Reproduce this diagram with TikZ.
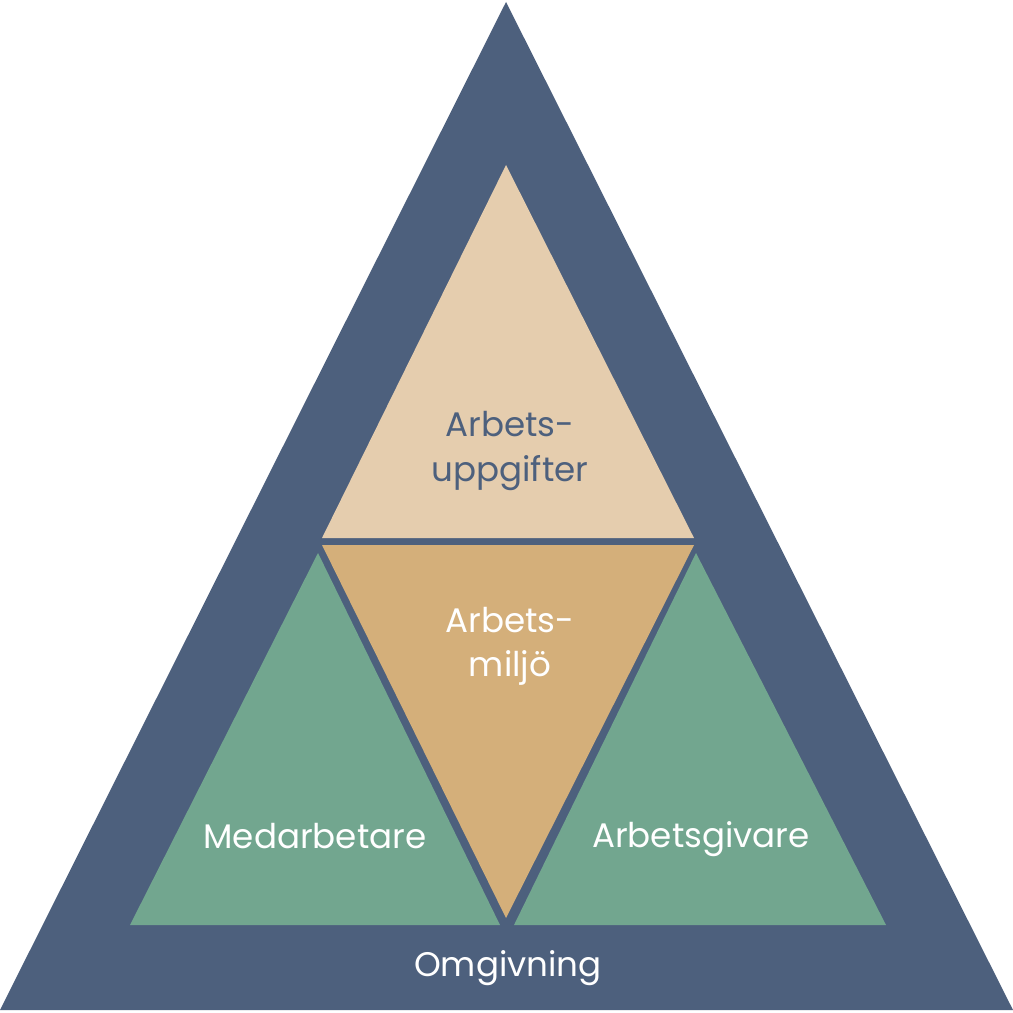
\documentclass[tikz,border=0pt]{standalone}
\usepackage{fontspec}
\setmainfont{Poppins}
\definecolor{omgblue}{HTML}{4D607D}
\definecolor{uppbeige}{HTML}{E5CDAE}
\definecolor{miljotan}{HTML}{D4AF7A}
\definecolor{partgreen}{HTML}{72A68F}
\tikzset{
  label/.style={font=\fontsize{9.7}{12.6}\selectfont, align=center, inner sep=0pt},
}
\begin{document}
\begin{tikzpicture}[x=0.01cm,y=-0.01cm]
            \useasboundingbox (0,0) rectangle (1013,1013);
            \fill[white] (0,0) rectangle (1013,1013);
            \fill[omgblue] (506,2) -- (1013,1010) -- (0,1010) -- cycle;
            \fill[uppbeige] (506,165) -- (694,538) -- (322,538) -- cycle;
            \fill[miljotan] (322,545) -- (694,545) -- (506,918) -- cycle;
            \fill[partgreen] (318,553) -- (500,925) -- (130,925) -- cycle;
            \fill[partgreen] (696,553) -- (886,925) -- (514,925) -- cycle;
            \node[label, text=omgblue] (upp) at (510,451) {Arbets-\\uppgifter};
            \node[label, text=white] (miljo) at (510,646) {Arbets-\\miljö};
            \node[label, text=white] (med) at (315,836) {Medarbetare};
            \node[label, text=white] (giv) at (701,839) {Arbetsgivare};
            \node[label, text=white] (omg) at (508,968) {Omgivning};
        \end{tikzpicture}
\end{document}
